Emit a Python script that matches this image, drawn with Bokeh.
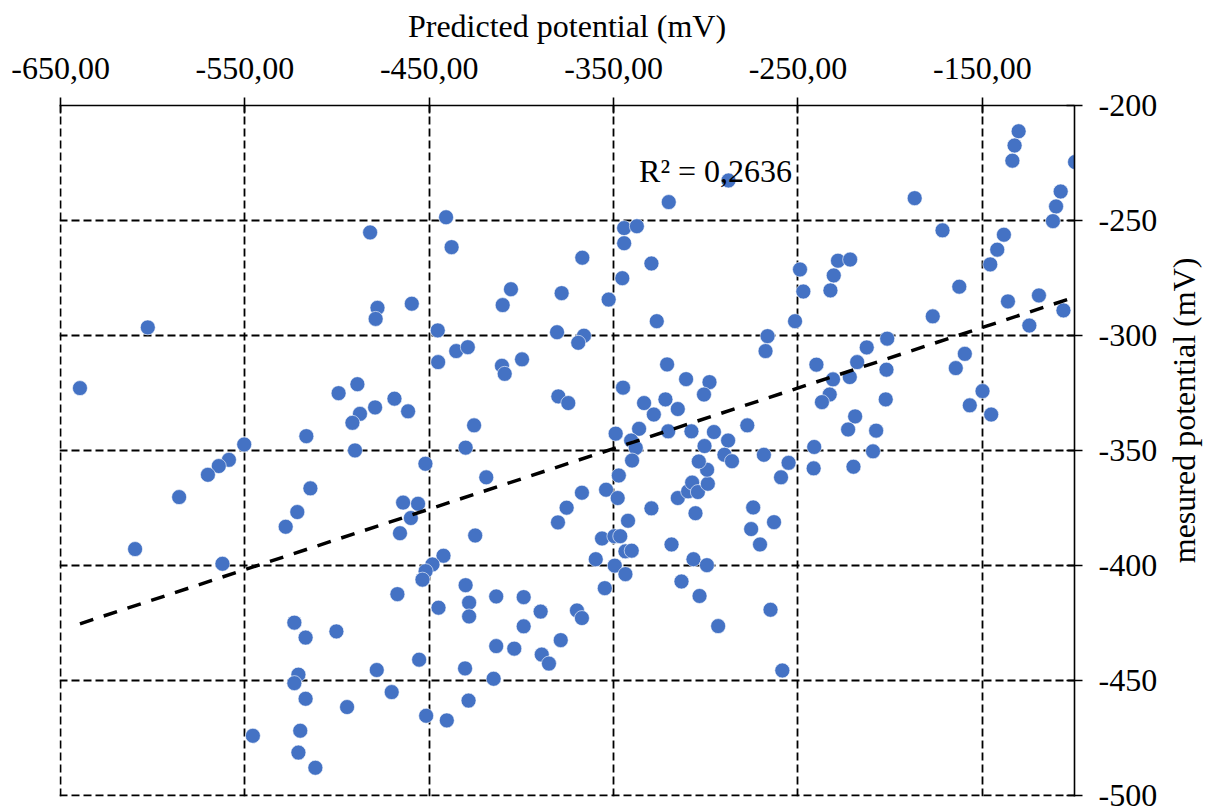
import math
from bokeh.plotting import figure
from bokeh.layouts import row
from bokeh.models import ColumnDataSource, FixedTicker, CustomJSTickFormatter, Label, Range1d
from bokeh.core.properties import value
from bokeh.embed import file_html
from bokeh.resources import INLINE

x_ticks = [-650, -550, -450, -350, -250, -150]
y_ticks = [-500, -450, -400, -350, -300, -250, -200]

predicted = [
    -482.1, -478.1, -479.1, -602.7, -639.5, -489.0, -499.2, -468.9, -479.4, -487.6, -491.7, -516.7, -550.4, -490.3,
    -558.7, -564.2, -570.1, -585.7, -514.5, -521.6, -527.9, -609.6, -562.2, -523.2, -517.1, -500.4, -478.5, -521.0,
    -523.2, -517.1, -470.4, -494.6, -545.7, -520.0, -521.0, -511.8,
    -440.9, -437.9, -459.5, -405.7, -410.2, -378.2, -367.0, -352.7, -345.3, -344.3, -337.4, -344.3, -320.1, -287.7,
    -329.5, -326.6, -445.4, -380.7, -366.1, -369.2, -435.4, -429.1, -445.2, -410.6, -409.1, -399.7, -321.0, -344.9,
    -310.7, -298.0, -301.0, -333.5, -321.9, -315.2, -328.2, -461.5, -380.0, -374.6, -425.7, -430.3, -348.9, -336.2,
    -340.5, -320.4, -307.8, -295.6, -287.9, -300.7, -338.0,
    -186.7, -171.6, -130.3, -132.5, -133.7, -99.7, -107.5, -110.0, -111.7, -138.3, -141.9, -145.7, -162.5, -136.1,
    -119.3, -106.0, -124.5, -176.9, -248.9, -247.1, -228.3, -221.7, -230.6, -232.4, -251.6, -266.5, -267.6, -201.6,
    -212.7, -217.9, -202.0, -159.5, -164.4, -240.0, -221.9, -231.0, -232.8, -237.0, -202.4, -149.9, -156.8, -145.2,
    -219.0, -222.8, -207.6, -277.5, -241.2, -268.5, -209.3,
    -255.1, -259.2, -241.5, -219.9, -274.3, -263.0, -275.4, -270.6, -264.9, -258.5,
    -452.1, -419.1, -464.2, -456.1, -460.0, -465.9, -425.1, -442.3, -448.3, -452.0, -453.7, -467.3, -430.3, -428.4,
    -428.4, -445.0, -413.7, -398.8, -398.8, -389.6, -369.9, -367.2, -413.7, -403.9, -378.7, -389.0, -385.1, -455.5,
    -430.6, -415.1, -428.7, -451.7, -440.5, -367.2, -375.5, -380.2, -354.1, -347.2, -347.8, -340.0, -342.2, -356.3,
    -349.6, -346.4, -343.6, -340.2, -359.7, -349.4, -343.6, -354.8, -329.5, -315.2, -309.6, -307.4, -304.3, -305.6,
    -298.9, -299.3, -303.8, -289.9, -285.8, -318.6, -306.7, -299.4, -313.2, -303.4, -293.3,
]

measured = [
    -255.2, -288.0, -292.8, -296.5, -322.9, -321.2, -325.1, -327.5, -331.3, -334.1, -338.0, -343.8, -347.4, -350.0,
    -354.1, -356.8, -360.6, -370.3, -366.5, -376.8, -383.2, -392.9, -399.3, -424.9, -431.4, -428.7, -445.5, -447.5,
    -451.2, -458.0, -455.1, -461.6, -474.1, -471.9, -481.4, -488.0,
    -248.6, -261.6, -286.2, -279.9, -286.8, -281.6, -266.2, -284.4, -275.1, -253.3, -252.5, -259.9, -242.0, -232.6,
    -268.7, -293.8, -297.8, -298.6, -300.1, -303.2, -306.8, -305.1, -311.6, -313.2, -316.7, -310.4, -312.6, -322.7,
    -319.0, -320.3, -325.7, -329.4, -327.8, -332.0, -334.4, -333.0, -326.5, -329.4, -339.1, -348.8, -342.7, -340.6,
    -345.7, -341.7, -341.7, -342.0, -345.7, -348.1, -348.9,
    -240.3, -254.3, -211.2, -217.4, -224.0, -224.6, -237.4, -243.9, -250.3, -256.2, -262.7, -269.1, -278.8, -285.2,
    -282.6, -289.1, -295.7, -291.7, -271.3, -280.9, -267.5, -267.0, -273.9, -280.4, -293.8, -300.3, -306.8, -301.4,
    -305.2, -311.6, -314.9, -308.0, -314.2, -312.7, -318.1, -319.1, -325.7, -329.0, -327.8, -324.2, -330.4, -334.4,
    -335.2, -340.9, -341.4, -339.1, -348.5, -351.9, -350.4,
    -355.4, -361.7, -357.8, -357.1, -374.8, -381.2, -384.2, -390.9, -419.3, -445.7,
    -355.8, -361.7, -372.7, -373.2, -379.4, -386.0, -387.0, -395.8, -399.6, -402.5, -406.2, -412.5, -408.6, -416.2,
    -422.2, -418.4, -413.5, -413.8, -426.5, -420.1, -419.6, -422.9, -435.1, -436.2, -432.5, -438.8, -442.7, -441.0,
    -444.8, -449.3, -458.8, -465.4, -467.4, -368.4, -374.9, -381.3, -367.1, -360.9, -370.7, -354.4, -380.6, -388.3,
    -387.3, -387.3, -393.9, -393.6, -397.3, -400.1, -403.8, -409.9, -375.2, -370.7, -367.8, -364.0, -368.1, -377.3,
    -364.5, -358.4, -354.8, -351.9, -354.7, -390.9, -397.3, -399.9, -407.0, -413.3, -426.4,
]

trend_x = [-639.5, -99.7]
trend_y = [-425.4, -283.3]
r2_text = "R\u00b2 = 0,2636"
x_title = "Predicted potential (mV)"
y_title = "mesured potential (mV)"

FONT = "Liberation Serif"
FS = "32px"

src = ColumnDataSource(data=dict(x=predicted, y=measured))

# ranges open a hair beyond the first ticks so the edge grid lines stay fully visible
y_rng = Range1d(-500.5, -200)
p1 = figure(width=1160, height=807,
            x_range=Range1d(-650.6, -100), y_range=y_rng,
            x_axis_location="above", y_axis_location="right",
            output_backend="svg", toolbar_location=None,
            min_border_left=59, min_border_right=86, min_border_top=105, min_border_bottom=11)
p1.outline_line_color = None
p1.background_fill_color = "white"
p1.border_fill_color = "white"

for g in (p1.xgrid, p1.ygrid):
    g.grid_line_color = "black"
    g.grid_line_dash = "8 4"
    g.grid_line_width = 1.8

p1.xgrid.ticker = FixedTicker(ticks=x_ticks)
p1.ygrid.ticker = FixedTicker(ticks=y_ticks)

xa = p1.xaxis[0]
xa.ticker = FixedTicker(ticks=x_ticks)
xa.formatter = CustomJSTickFormatter(code="return tick.toFixed(2).replace('.', ',');")
xa.axis_label = x_title
ya = p1.yaxis[0]
ya.ticker = FixedTicker(ticks=y_ticks)
ya.formatter = CustomJSTickFormatter(code="return tick.toFixed(0);")

for ax in (xa, ya):
    ax.axis_line_color = "black"
    ax.axis_line_width = 1.6
    ax.major_tick_line_color = "black"
    ax.major_tick_line_width = 1.6
    ax.major_tick_in = 8
    ax.major_tick_out = 8
    ax.minor_tick_line_color = None
    ax.major_label_text_font = FONT
    ax.major_label_text_font_size = FS
    ax.major_label_text_color = "black"
    ax.axis_label_text_font = FONT
    ax.axis_label_text_font_size = FS
    ax.axis_label_text_font_style = "normal"
    ax.axis_label_text_color = "black"

xa.major_label_standoff = 19
xa.axis_label_standoff = 11
ya.major_label_standoff = 16

p1.scatter("x", "y", source=src, size=15, fill_color="#4472C4", line_color="white", line_width=0.6)
p1.line(trend_x, trend_y, line_color="black", line_width=3.5, line_dash="14 11")

p1.add_layout(Label(x=-336.2, y=-228.6, text=r2_text, text_baseline="alphabetic",
                    text_font=FONT, text_font_size=FS, text_color="black"))

# narrow strip on the right holding the vertical axis title (reads bottom to top)
p2 = figure(width=47, height=807, x_range=Range1d(0, 1), y_range=y_rng,
            x_axis_type=None, y_axis_type=None,
            output_backend="svg", toolbar_location=None,
            min_border_left=0, min_border_right=0, min_border_top=105, min_border_bottom=11)
p2.outline_line_color = None
p2.xgrid.visible = False
p2.ygrid.visible = False
p2.background_fill_color = "white"
p2.border_fill_color = "white"
p2.text(x=[0.5], y=[-332.6], text=[y_title], angle=math.pi / 2,
        text_align="center", text_baseline="middle",
        text_font=value(FONT), text_font_size=value(FS), text_color="black")

layout = row(p1, p2, spacing=0)
open("out.html", "w").write(file_html(layout, INLINE))
